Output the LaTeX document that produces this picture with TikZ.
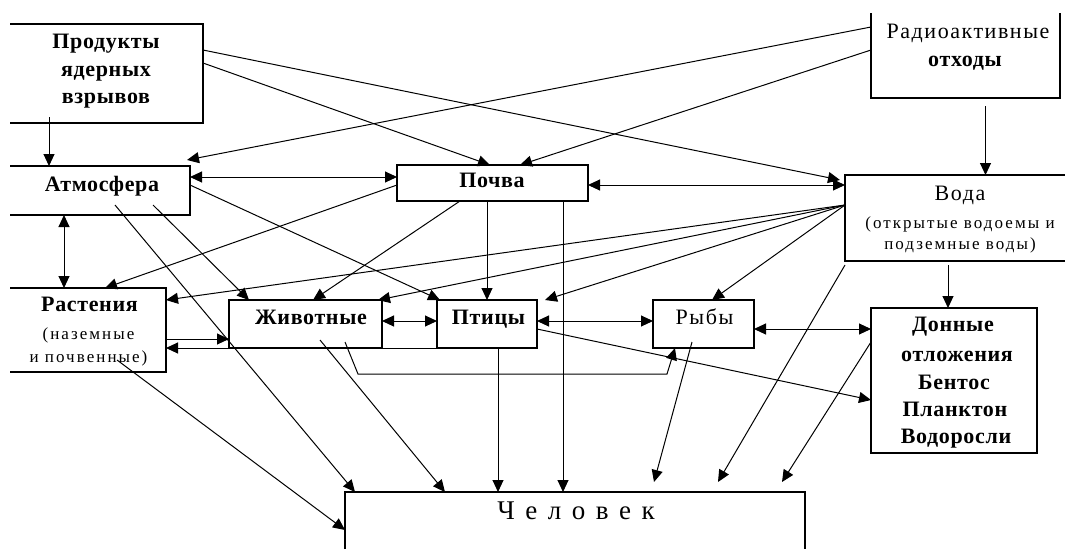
\documentclass[tikz,border=0pt]{standalone}
\usepackage{fontspec}
\setmainfont{Liberation Serif}
\newfontfamily\hdfont[LetterSpace=3]{Liberation Serif}
\newfontfamily\rgfont[LetterSpace=7]{Liberation Serif}
\newfontfamily\subfont[LetterSpace=12]{Liberation Serif}
\newfontfamily\manfont[LetterSpace=39]{Liberation Serif}
\usetikzlibrary{arrows.meta}

\begin{document}
\begin{tikzpicture}[x=1pt,y=-1pt,
  box/.style={rectangle, inner sep=0pt, outer sep=0pt},
  frame/.style={line width=1.4pt, line join=miter},
  shut/.style={box, draw, line width=1.4pt},
  txt/.style={inner sep=0pt, text height=0.66em, text depth=0pt},
  hd/.style={txt, font=\hdfont\bfseries\fontsize{22}{26}\selectfont},
  rg/.style={txt, font=\rgfont\fontsize{22}{26}\selectfont},
  sub/.style={txt, font=\subfont\fontsize{17}{20}\selectfont},
  man/.style={txt, font=\manfont\fontsize{27}{30}\selectfont},
  link/.style={line width=1pt, -{Triangle[length=12pt,width=11pt]}},
  both/.style={line width=1pt, {Triangle[length=12pt,width=11pt]}-{Triangle[length=12pt,width=11pt]}},
]
\useasboundingbox (0,0) rectangle (1065,549);
\fill[white] (0,0) rectangle (1065,549);

% ---------- boxes ----------
\node[box, minimum width=193pt, minimum height=99pt] (prod)   at (106.5,73.5) {};
\node[box, minimum width=189pt, minimum height=85pt] (radio)  at (965.5,55.5) {};
\node[box, minimum width=180pt, minimum height=49pt] (atm)    at (100,190.5) {};
\node[shut, minimum width=191pt, minimum height=36pt] (pochva) at (492.5,183) {};
\node[box, minimum width=220pt, minimum height=86pt] (voda)   at (955,218) {};
\node[box, minimum width=156pt, minimum height=84pt] (rast)   at (88,330) {};
\node[shut, minimum width=153pt, minimum height=48pt] (zhiv)  at (305.5,324) {};
\node[shut, minimum width=100pt, minimum height=48pt] (ptic)  at (487,324) {};
\node[shut, minimum width=101pt, minimum height=48pt] (ryby)  at (703.5,324) {};
\node[shut, minimum width=166pt, minimum height=145pt] (don)  at (954,380.5) {};
\node[box, minimum width=460pt, minimum height=57pt] (chel)   at (575,520.5) {};

% boxes cut by the edge of the sheet
\draw[frame] (prod.north west) -- (prod.north east) -- (prod.south east) -- (prod.south west);
\draw[frame] (radio.north west) -- (radio.south west) -- (radio.south east) -- (radio.north east);
\draw[frame] (atm.north west) -- (atm.north east) -- (atm.south east) -- (atm.south west);
\draw[frame] (voda.north east) -- (voda.north west) -- (voda.south west) -- (voda.south east);
\draw[frame] (rast.north west) -- (rast.north east) -- (rast.south east) -- (rast.south west);
\draw[frame] (chel.south west) -- (chel.north west) -- (chel.north east) -- (chel.south east);

% ---------- labels ----------
\node[hd] (prod-1) at (106,45) {Продукты};
\node[hd] (prod-2) at (106,73) {ядерных};
\node[hd] (prod-3) at (106,100) {взрывов};
\node[rg] (radio-1) at (968,35) {Радиоактивные};
\node[hd] (radio-2) at (965,63) {отходы};
\node[hd] (atm-1) at (102,188) {Атмосфера};
\node[hd] (pochva-1) at (492,184) {Почва};
\node[rg] (voda-1) at (960,197) {Вода};
\node[sub] (voda-2) at (960,225) {(открытые водоемы и};
\node[sub] (voda-3) at (960,246) {подземные воды)};
\node[hd] (rast-1) at (89.5,308) {Растения};
\node[sub] (rast-2) at (88.5,336) {(наземные};
\node[sub] (rast-3) at (88.5,359) {и почвенные)};
\node[hd] (zhiv-1) at (311,321) {Животные};
\node[hd] (ptic-1) at (488.5,321) {Птицы};
\node[rg] (ryby-1) at (704.5,321) {Рыбы};
\node[hd] (don-1) at (953,328) {Донные};
\node[hd] (don-2) at (957,358) {отложения};
\node[hd] (don-3) at (954,386) {Бентос};
\node[hd] (don-4) at (955,413) {Планктон};
\node[hd] (don-5) at (956,440) {Водоросли};
\node[man] (chel-1) at (576,516) {Человек};

% ---------- sources ----------
\draw[link] ([xshift=39pt,yshift=6pt]prod.south west) -- ([xshift=39pt]atm.north west);
\draw[link] ([yshift=-39pt]prod.north east) -- ([xshift=93pt]pochva.north west);
\draw[link] ([yshift=-26pt]prod.north east) -- ([xshift=-5pt,yshift=-5pt]voda.north west);
\draw[link] ([yshift=-14pt]radio.north west) -- ([xshift=-3pt,yshift=6pt]atm.north east);
\draw[link] ([yshift=-37pt]radio.north west) -- ([xshift=123pt]pochva.north west);
\draw[link] ([xshift=20pt,yshift=-8pt]radio.south) -- ([xshift=20pt]radio.south |- voda.north);

% ---------- atmosphere ----------
\draw[both] ([yshift=-11pt]atm.north east) -- ([yshift=-12pt]pochva.north west);
\draw[both] ([xshift=54pt]atm.south west) -- ([xshift=54pt]rast.north west);
\draw[link] ([yshift=5.5pt]atm.east) -- ([xshift=3pt]ptic.north west);
\draw[link] ([xshift=105pt,yshift=10pt]atm.south west) -- ([xshift=10pt]chel.north west);
\draw[link] ([xshift=143pt,yshift=10pt]atm.south west) -- ([xshift=20pt]zhiv.north west);

% ---------- soil ----------
\draw[both] ([yshift=-2pt]pochva.east) -- ([yshift=-10pt]voda.north west);
\draw[link] ([yshift=-2pt]pochva.west) -- ([xshift=-61pt]rast.north east);
\draw[link] ([xshift=63pt]pochva.south west) -- ([xshift=84pt]zhiv.north west);
\draw[link] ([xshift=90pt]pochva.south west) -- ([xshift=90pt]pochva.south west |- ptic.north);
\draw[link] ([xshift=166pt]pochva.south west) -- ([xshift=166pt]pochva.south west |- chel.north);

% ---------- water ----------
\draw[link] ([yshift=-30pt]voda.north west) -- ([yshift=-12pt]rast.north east);
\draw[link] ([yshift=-30pt]voda.north west) -- ([xshift=-4pt]zhiv.north east);
\draw[link] ([yshift=-30pt]voda.north west) -- ([xshift=8pt]ptic.north east);
\draw[link] ([yshift=-30pt]voda.north west) -- ([xshift=59pt]ryby.north west);
\draw[link] ([yshift=-4pt]voda.south west) -- ([xshift=-87pt,yshift=10pt]chel.north east);
\draw[link] ([xshift=103pt,yshift=-4pt]voda.south west) -- ([xshift=103pt]voda.south west |- don.north);

% ---------- living things ----------
\draw[link] ([yshift=-9pt]rast.east) -- ([yshift=-9pt]rast.east -| zhiv.west);
\draw[link] ([xshift=36pt]ptic.south west) -- (rast.east |- ptic.south);
\draw[both] ([yshift=3pt]zhiv.east) -- ([yshift=3pt]ptic.west);
\draw[both] ([yshift=3pt]ptic.east) -- ([yshift=3pt]ryby.west);
\draw[both] ([yshift=-5pt]ryby.east) -- ([yshift=-5pt]ryby.east -| don.west);
\draw[link] ([yshift=-5pt]ptic.east) -- ([yshift=-19.5pt]don.west);
\draw[link] ([xshift=116pt,yshift=6pt]zhiv.south west) -- ([xshift=129pt,yshift=-26pt]zhiv.south west)
            -- ([xshift=14pt,yshift=-26pt]ryby.south west) -- ([xshift=22pt]ryby.south west);

% ---------- into man ----------
\draw[link] ([xshift=91pt,yshift=8pt]zhiv.south west) -- ([xshift=100pt]chel.north west);
\draw[link] ([xshift=61pt]ptic.south west) -- ([xshift=61pt]ptic.south west |- chel.north);
\draw[link] ([xshift=39pt,yshift=6pt]ryby.south west) -- ([xshift=309pt,yshift=10pt]chel.north west);
\draw[link] ([yshift=-34pt]don.north west) -- ([xshift=-23pt,yshift=10pt]chel.north east);
\draw[link] ([xshift=107pt,yshift=12pt]rast.south west) -- ([yshift=-9.5pt]chel.west);
\end{tikzpicture}
\end{document}
